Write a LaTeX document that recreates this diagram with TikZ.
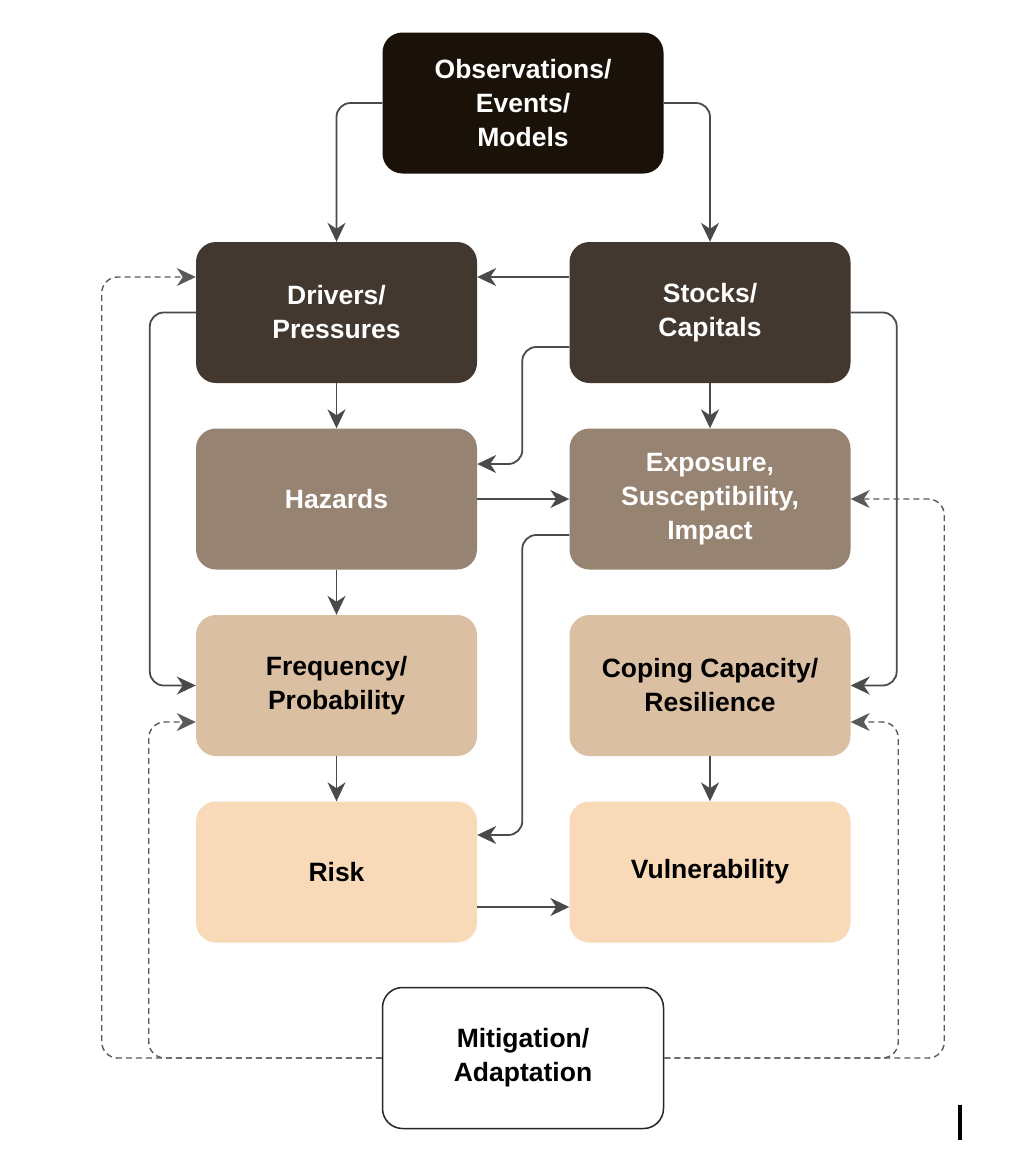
\documentclass[tikz,border=0pt]{standalone}
\usepackage{fontspec}
\setmainfont{Liberation Sans}
\usetikzlibrary{arrows.meta}
\definecolor{cobs}{HTML}{1A1208}
\definecolor{cdrv}{HTML}{42382F}
\definecolor{chaz}{HTML}{978371}
\definecolor{cfrq}{HTML}{DBBFA2}
\definecolor{crsk}{HTML}{F8D9B8}
\definecolor{cline}{HTML}{4A4A4A}
\definecolor{cdash}{HTML}{5A5A5A}
\tikzset{
  box/.style={rounded corners=20pt, minimum width=281pt, minimum height=141pt,
    align=center, inner sep=0pt, font=\fontsize{26.5}{34}\selectfont\bfseries},
  darkbox/.style={box, fill=#1, text=white},
  lightbox/.style={box, fill=#1, text=black},
  tip/.style={-{Stealth[length=19pt,width=18pt,inset=6pt]}},
  conn/.style={draw=cline, line width=1.8pt, rounded corners=14pt, tip},
  fb/.style={draw=cdash, line width=1.4pt, dash pattern=on 6pt off 4pt, rounded corners=16pt, tip},
}
\begin{document}
\begin{tikzpicture}[x=1pt,y=-1pt]
\useasboundingbox[fill=white] (0,0) rectangle (1036,1160);
\node[darkbox=cobs] (obs) at (523,103) {Observations/\\Events/\\Models};
\node[darkbox=cdrv] (drv) at (336.5,312.5) {Drivers/\\Pressures};
\node[darkbox=cdrv] (stk) at (710,312.5) {Stocks/\\Capitals};
\node[darkbox=chaz] (haz) at (336.5,499) {Hazards};
\node[darkbox=chaz] (exp) at (710,499) {Exposure,\\Susceptibility,\\Impact};
\node[lightbox=cfrq] (frq) at (336.5,685.5) {Frequency/\\Probability};
\node[lightbox=cfrq] (cop) at (710,685.5) {Coping Capacity/\\Resilience};
\node[lightbox=crsk] (rsk) at (336.5,872) {Risk};
\node[lightbox=crsk] (vul) at (710,872) {Vulnerability};
\node[box, fill=white, draw=black!85, line width=1.5pt] (mit) at (523,1058) {Mitigation/\\Adaptation};
\fill[black] (957.5,1105) rectangle (961.5,1140);
% solid connectors
\draw[conn] (obs.west) -| (drv.north);
\draw[conn] (obs.east) -| (stk.north);
\draw[conn] ([yshift=35.5pt]stk.west) -- ([yshift=35.5pt]drv.east);
\draw[conn] (drv.west) -- ++(-46,0) |- (frq.west);
\draw[conn] ([yshift=-34.5pt]stk.west) -- ++(-47,0) |- ([yshift=35pt]haz.east);
\draw[conn] (drv.south) -- (haz.north);
\draw[conn] (stk.south) -- (exp.north);
\draw[conn] (stk.east) -- ++(46,0) |- (cop.east);
\draw[conn] (haz.east) -- (exp.west);
\draw[conn] ([yshift=-36pt]exp.west) -- ++(-47,0) |- ([yshift=37pt]rsk.east);
\draw[conn] (haz.south) -- (frq.north);
\draw[conn] (frq.south) -- (rsk.north);
\draw[conn] (cop.south) -- (vul.north);
\draw[conn] ([yshift=-35pt]rsk.east) -- ([yshift=-35pt]vul.west);
% dashed feedback
\draw[fb] (mit.west) -- ++(-280,0) |- ([yshift=35.5pt]drv.west);
\draw[fb] (mit.west) -- ++(-233,0) |- ([yshift=-36.5pt]frq.west);
\draw[fb] (mit.east) -- ++(280,0) |- (exp.east);
\draw[fb] (mit.east) -- ++(234,0) |- ([yshift=-36.5pt]cop.east);
\end{tikzpicture}
\end{document}
